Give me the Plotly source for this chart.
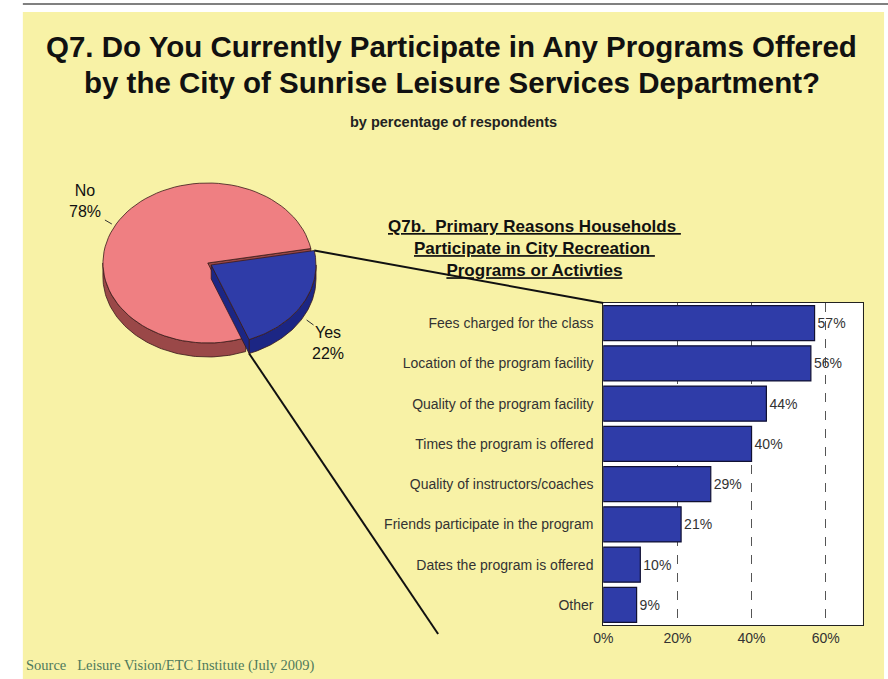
import math
import plotly.graph_objects as go

# ---------------- data ----------------
pie_labels = ["No", "Yes"]
pie_values = [78, 22]

reasons = [
    "Fees charged for the class",
    "Location of the program facility",
    "Quality of the program facility",
    "Times the program is offered",
    "Quality of instructors/coaches",
    "Friends participate in the program",
    "Dates the program is offered",
    "Other",
]
reason_values = [57, 56, 44, 40, 29, 21, 10, 9]
x_tick_vals = [0, 20, 40, 60]
x_tick_text = ["0%", "20%", "40%", "60%"]

title_lines = ["Q7. Do You Currently Participate in Any Programs Offered",
               "by the City of Sunrise Leisure Services Department?"]
subtitle_text = "by percentage of respondents"
bar_title_text = ("Q7b.  Primary Reasons Households <br>Participate in City Recreation <br>"
                  "Programs or Activties")
source_text = "Source   Leisure Vision/ETC Institute (July 2009)"

# ---------------- style ----------------
W, H = 888, 679
YELLOW = "#F8F2A6"
PIE_TOP = {"No": "#EF7F82", "Yes": "#2F3CA8"}
PIE_SIDE = {"No": "#9A4848", "Yes": "#1C2684"}
BAR_COLOR = "#2F3CA8"
FONT = "Arial, Liberation Sans, sans-serif"

cx, cy, rx, ry, depth = 200, 263, 106, 80, 14
start_angle = 10.4
explode = {"No": 0.0, "Yes": 4.0}

fig = go.Figure()

fig.add_trace(go.Bar(
    x=reason_values, y=reasons, orientation="h",
    marker=dict(color=BAR_COLOR, line=dict(color="#111133", width=1.2)),
    text=[f"{v}%" for v in reason_values], textposition="outside",
    textfont=dict(family=FONT, size=14, color="#333333"),
    cliponaxis=False, showlegend=False, hoverinfo="skip",
    xaxis="x", yaxis="y",
))

total = sum(pie_values)
yes_span = 360 * pie_values[1] / total
spans = {
    "Yes": (start_angle - yes_span, start_angle),
    "No": (start_angle, start_angle - yes_span + 360),
}


def pt(theta, ox=0.0, oy=0.0, dz=0.0):
    t = math.radians(theta)
    return cx + ox + rx * math.cos(t), cy + oy - ry * math.sin(t) + dz


def offset(name):
    a1, a2 = spans[name]
    mid = math.radians((a1 + a2) / 2)
    e = explode[name]
    return e * math.cos(mid), -e * math.sin(mid)


def arc(a1, a2, ox, oy, dz=0.0, n=80):
    return [pt(a1 + (a2 - a1) * i / n, ox, oy, dz) for i in range(n + 1)]


def poly(points, fill, line="#3a1a1a"):
    xs = [p[0] for p in points] + [points[0][0]]
    ys = [p[1] for p in points] + [points[0][1]]
    fig.add_trace(go.Scatter(
        x=xs, y=ys, mode="lines", fill="toself", fillcolor=fill,
        line=dict(color=line, width=0.8), showlegend=False, hoverinfo="skip",
        xaxis="x2", yaxis="y2",
    ))


def draw_slice(name):
    a1, a2 = spans[name]
    ox, oy = offset(name)
    ranges = []
    for base in (-360, 0, 360):
        s, e = max(a1, 180 + base), min(a2, 360 + base)
        if e > s:
            ranges.append((s, e))
    for s, e in ranges:
        top = arc(s, e, ox, oy)
        bot = arc(e, s, ox, oy, depth)
        poly(top + bot, PIE_SIDE[name])
    for ang, sign in ((a1, -1), (a2, 1)):
        normal = math.radians(ang + sign * 90)
        if math.sin(normal) < 0:
            c = (cx + ox, cy + oy)
            p = pt(ang, ox, oy)
            poly([c, p, (p[0], p[1] + depth), (c[0], c[1] + depth)], PIE_SIDE[name])
    c = (cx + ox, cy + oy)
    poly([c] + arc(a1, a2, ox, oy), PIE_TOP[name])


draw_slice("No")
draw_slice("Yes")

label_pos = {"No": (76, 201), "Yes": (322, 343)}
for name, val in zip(pie_labels, pie_values):
    lx, ly = label_pos[name]
    fig.add_annotation(x=lx, y=ly, xref="x2", yref="y2", xanchor="center", yanchor="middle",
                       text=f"{name}<br>{val}%", showarrow=False,
                       font=dict(family=FONT, size=16, color="#111111"),
                       align="center")

for (x0, y0, x1, y1) in [(96, 220, 103, 224), (300, 320, 307, 325)]:
    fig.add_shape(type="line", x0=x0, y0=y0, x1=x1, y1=y1, xref="x2", yref="y2",
                  line=dict(color="#333333", width=1))

ox_y, oy_y = offset("Yes")
p_top = pt(spans["Yes"][1], ox_y, oy_y)
p_bot = pt(spans["Yes"][0], ox_y, oy_y, depth)
fig.add_shape(type="line", x0=p_top[0], y0=p_top[1], x1=600, y1=303,
              xref="x2", yref="y2", line=dict(color="#111111", width=2))
fig.add_shape(type="line", x0=p_bot[0], y0=p_bot[1], x1=433, y1=634,
              xref="x2", yref="y2", line=dict(color="#111111", width=2))


def py(px):
    return 1 - px / H


fig.add_shape(type="rect", x0=13 / W, y0=0, x1=884 / W, y1=py(12), xref="paper", yref="paper",
              fillcolor=YELLOW, line=dict(width=0), layer="below")
fig.add_shape(type="line", x0=13 / W, y0=py(4), x1=1, y1=py(4), xref="paper", yref="paper",
              line=dict(color="#808080", width=2), layer="below")
fig.add_shape(type="rect", x0=0, y0=0, x1=1, y1=1, xref="x domain", yref="y domain",
              fillcolor="white", line=dict(width=0), layer="below")

for i, line in enumerate(title_lines):
    fig.add_annotation(x=447 / W, y=py(47 + 35 * i), xref="paper", yref="paper", text=line,
                       showarrow=False, align="center", yanchor="middle",
                       font=dict(family=FONT, size=29.5, color="#111111", weight="bold"))
fig.add_annotation(x=449 / W, y=py(122), xref="paper", yref="paper", text=subtitle_text,
                   showarrow=False, yanchor="middle",
                   font=dict(family=FONT, size=14.5, color="#222222", weight="bold"))
fig.add_annotation(x=681 / W, y=py(248), xref="paper", yref="paper", text=bar_title_text,
                   showarrow=False, align="center", yanchor="middle",
                   font=dict(family=FONT, size=17, color="#111111", weight="bold",
                             lineposition="under"))
fig.add_annotation(x=14 / W, y=py(665), xref="paper", yref="paper", text=source_text,
                   showarrow=False, xanchor="left", yanchor="middle",
                   font=dict(family="Liberation Serif, Times New Roman, serif", size=14.5,
                             color="#4F7A5C"))

fig.update_layout(
    width=W, height=H,
    margin=dict(l=0, r=0, t=0, b=0),
    paper_bgcolor="white",
    plot_bgcolor="rgba(0,0,0,0)",
    bargap=0.13,
    xaxis=dict(domain=[600 / W, 862.5 / W], range=[0, 70],
               tickvals=x_tick_vals, ticktext=x_tick_text,
               showgrid=True, gridcolor="#555555", griddash="dash", gridwidth=1,
               showline=True, linecolor="#222222", linewidth=1, mirror=True,
               zeroline=False, ticks="", ticklen=0,
               tickfont=dict(family=FONT, size=14, color="#333333"),
               fixedrange=True, anchor="y"),
    yaxis=dict(domain=[py(625), py(303)], autorange="reversed",
               showline=True, linecolor="#222222", linewidth=1, mirror=True,
               showgrid=False, ticks="", ticklen=0, ticklabelstandoff=6,
               tickfont=dict(family=FONT, size=14, color="#333333"),
               fixedrange=True, anchor="x"),
    xaxis2=dict(domain=[0, 1], range=[0, W], visible=False,
                anchor="y2", fixedrange=True),
    yaxis2=dict(domain=[0, 1], range=[H, 0], visible=False,
                anchor="x2", fixedrange=True),
)

fig.write_html("out.html")
